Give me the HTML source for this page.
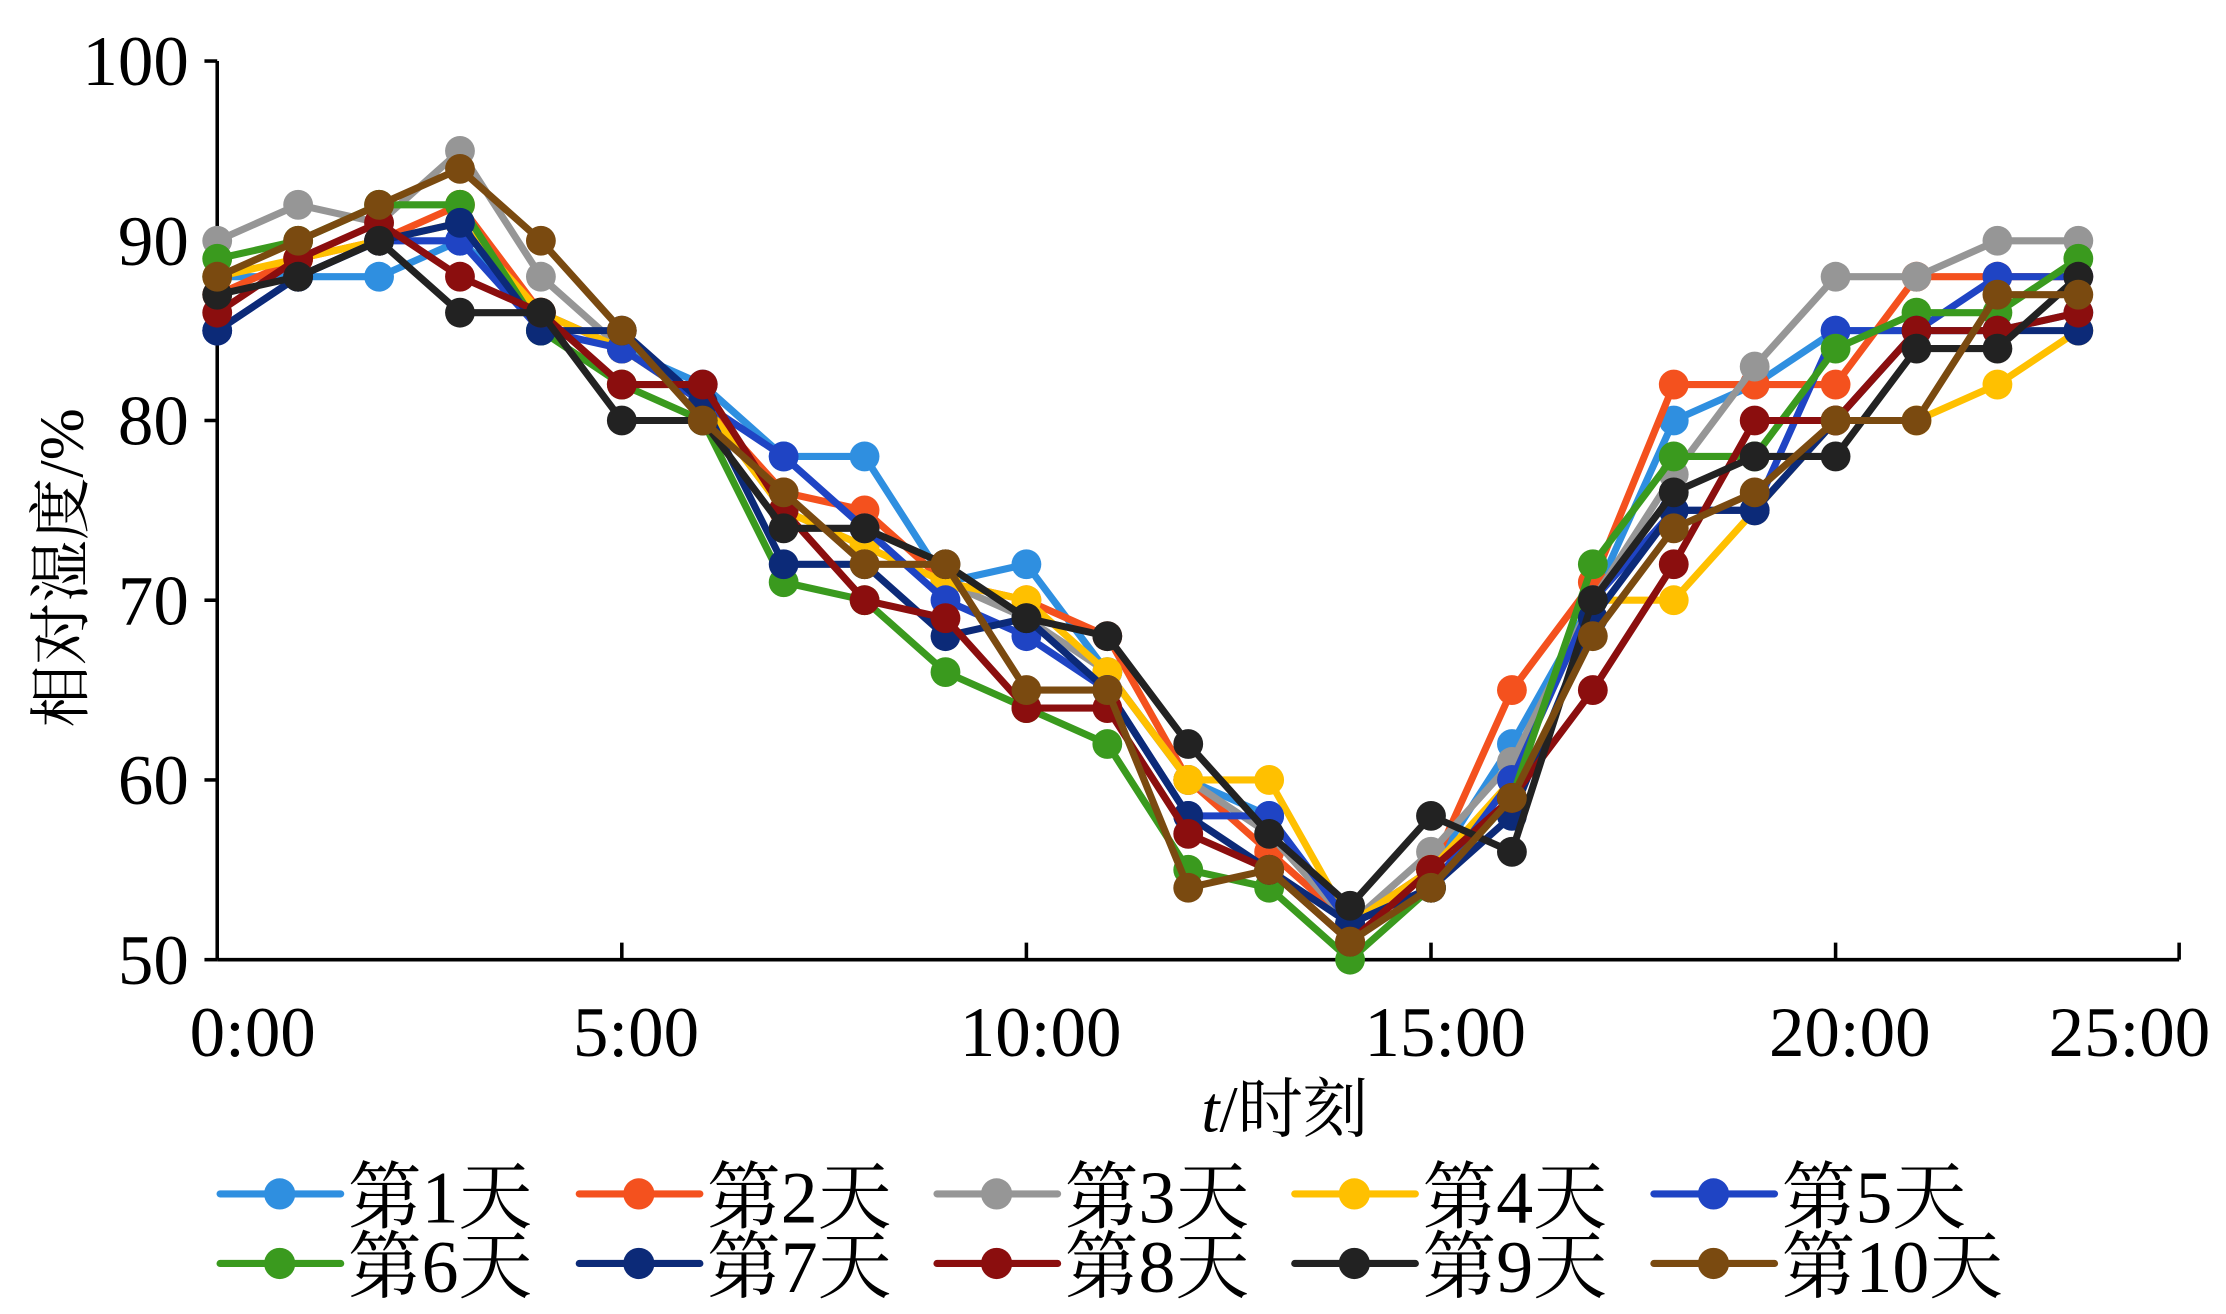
<!DOCTYPE html>
<html><head><meta charset="utf-8">
<style>
html,body{margin:0;padding:0;background:#fff;}
svg{display:block;}
text{font-family:"Liberation Serif","Noto Serif CJK SC",serif;fill:#000;}
</style></head>
<body>
<svg id="chart" width="2226" height="1314" viewBox="0 0 1568 925.6" xmlns="http://www.w3.org/2000/svg">
<g id="axes"></g>
<g id="series"></g>
<g id="legend"></g>
<text transform="translate(58,400) rotate(-90)" text-anchor="middle" font-size="44" font-family="Liberation Serif, Noto Serif CJK SC, serif">相对湿度/%</text>
<text x="905" y="797" text-anchor="middle" font-size="46" font-family="Liberation Serif, Noto Serif CJK SC, serif"><tspan font-style="italic">t</tspan>/时刻</text>
</svg>
<script>
const hours = [0,1,2,3,4,5,6,7,8,9,10,11,12,13,14,15,16,17,18,19,20,21,22,23];
const yTicks = [50,60,70,80,90,100];
const xTicks = [0,5,10,15,20,25];
const xTickLabels = ["0:00","5:00","10:00","15:00","20:00","25:00"];
const seriesNames = ["第1天","第2天","第3天","第4天","第5天","第6天","第7天","第8天","第9天","第10天"];
const seriesColors = ["#2f8fe0","#f4511e","#969696","#ffc000","#1f44c4","#3a9a1e","#0c2a78","#8b0e0e","#222222","#7a4a10"];
const day1 = [88,88,88,90,86,84,82,78,78,71,72,66,60,58,52,55,62,70,80,82,85,85,85,86];
const day2 = [87,89,90,92,86,84,81,76,75,71,70,68,60,56,52,55,65,71,82,82,82,88,88,88];
const day3 = [90,92,91,95,88,84,81,75,73,71,69,66,60,57,52,56,61,70,77,83,88,88,90,90];
const day4 = [88,89,90,91,86,84,81,75,73,71,70,66,60,60,52,55,60,70,70,75,80,80,82,85];
const day5 = [85,88,90,90,85,84,81,78,74,70,68,65,58,58,52,54,60,70,75,75,85,85,88,88];
const day6 = [89,90,92,92,85,82,80,71,70,66,64,62,55,54,50,54,59,72,78,78,84,86,86,89];
const day7 = [85,88,90,91,85,85,81,72,72,68,69,65,58,55,52,54,58,69,75,75,80,85,85,85];
const day8 = [86,89,91,88,86,82,82,75,70,69,64,64,57,55,51,55,59,65,72,80,80,85,85,86];
const day9 = [87,88,90,86,86,80,80,74,74,72,69,68,62,57,53,58,56,70,76,78,78,84,84,88];
const day10 = [88,90,92,94,90,85,80,76,72,72,65,65,54,55,51,54,59,68,74,76,80,80,87,87];
const allSeries = [day1,day2,day3,day4,day5,day6,day7,day8,day9,day10];

const NS = "http://www.w3.org/2000/svg";
const X0 = 153, XPH = 57.0, Y0 = 676, YTOP = 43;
const FONT = "Liberation Serif, Noto Serif CJK SC, serif";
function xs(h){ return X0 + h*XPH; }
function ys(v){ return Y0 - (v-50)/50*(Y0-YTOP); }
function mk(tag, attrs, parent){
  const e = document.createElementNS(NS, tag);
  for (const k in attrs) e.setAttribute(k, attrs[k]);
  parent.appendChild(e); return e;
}
const axes = document.getElementById('axes');
const yAxis = mk('line',{x1:X0,y1:YTOP,x2:X0,y2:Y0,stroke:'#000','stroke-width':2.5},axes);


const xAxis = mk('line',{x1:X0,y1:Y0,x2:1535,y2:Y0,stroke:'#000','stroke-width':2.5},axes);


mk('line',{x1:1535,y1:Y0,x2:1535,y2:Y0-12,stroke:'#000','stroke-width':2.5},axes);
yTicks.forEach(v=>{
  const y = ys(v);
  mk('line',{x1:X0-9,y1:y,x2:X0,y2:y,stroke:'#000','stroke-width':2.5},axes);
  const t = mk('text',{x:X0-20,y:y+17,'text-anchor':'end','font-size':50,'font-family':FONT},axes);
  t.textContent = v;
  
  
});
xTicks.forEach((h,i)=>{
  const x = Math.min(xs(h),1535);
  if (i>0 && i<5) mk('line',{x1:x,y1:Y0,x2:x,y2:Y0-12,stroke:'#000','stroke-width':2.5},axes);
  const lx = i===0 ? 178 : (i===5 ? 1500 : x+10);
  const t = mk('text',{x:lx,y:744,'text-anchor':'middle','font-size':50,'font-family':FONT},axes);
  t.textContent = xTickLabels[i];
  
  
});
const sg = document.getElementById('series');
allSeries.forEach((vals,si)=>{
  const g = mk('g',{},sg);
  
  
  const pts = vals.map((v,i)=>xs(hours[i])+','+ys(v)).join(' ');
  mk('polyline',{points:pts,fill:'none',stroke:seriesColors[si],'stroke-width':5,'stroke-linejoin':'round'},g);
  vals.forEach((v,i)=>{
    const c = mk('circle',{cx:xs(hours[i]),cy:ys(v),r:10.5,fill:seriesColors[si]},g);
    
    
  });
});
const lg = document.getElementById('legend');
const colX = [155,408,660,912,1165];
const rowY = [841,890];
seriesNames.forEach((n,i)=>{
  const x = colX[i%5], y = rowY[Math.floor(i/5)];
  const g = mk('g',{},lg);
  
  
  mk('line',{x1:x,y1:y,x2:x+85,y2:y,stroke:seriesColors[i],'stroke-width':5,'stroke-linecap':'round'},g);
  mk('circle',{cx:x+42,cy:y,r:11,fill:seriesColors[i]},g);
  const t = mk('text',{x:x+90,y:y+20,'font-size':52,'font-family':FONT},g);
  t.textContent = n;
});
</script>
</body></html>
